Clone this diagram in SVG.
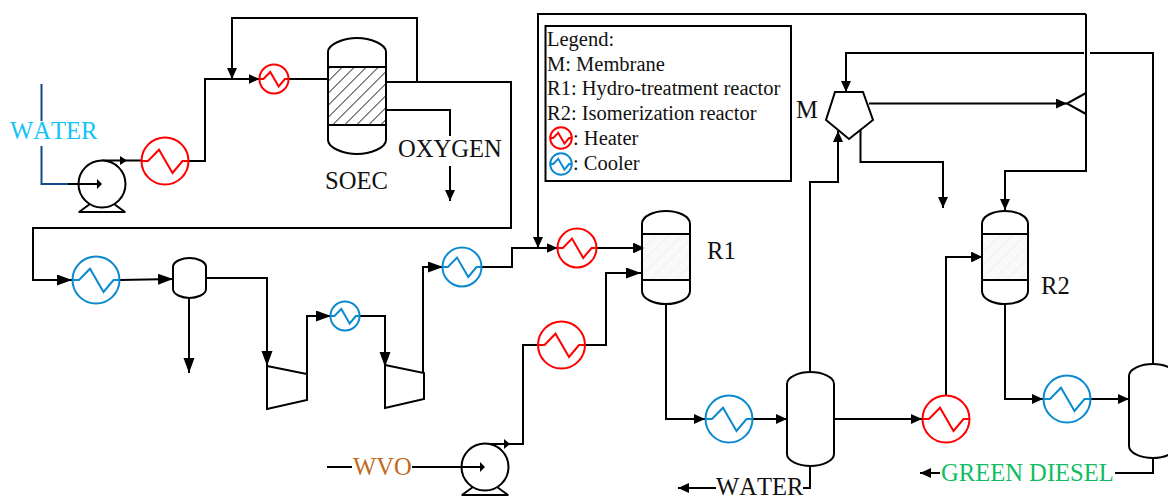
<svg xmlns="http://www.w3.org/2000/svg" width="1168" height="496" viewBox="0 0 1168 496">
<style>
.l{fill:none;stroke:#000;stroke-width:2}
.a{fill:none;stroke:#000;stroke-width:2;marker-end:url(#ah)}
.m{fill:none;stroke:#000;stroke-width:2;marker-end:url(#am)}
.s{fill:#fff;stroke:#000;stroke-width:2}
.h{fill:#fff;stroke:#f00;stroke-width:2}
.c{fill:#fff;stroke:#0c8ad0;stroke-width:2}
.t{font-family:"Liberation Serif","Times New Roman",serif;font-size:24.6px;fill:#111;font-kerning:none}
.k{font-family:"Liberation Serif","Times New Roman",serif;font-size:20.5px;fill:#111}
</style>
<defs>
<marker id="ah" markerUnits="userSpaceOnUse" markerWidth="16" markerHeight="12" refX="15" refY="5.500" orient="auto"><path d="M0 0L15 5.500L0 11Z" fill="#000"/></marker>
<marker id="am" markerUnits="userSpaceOnUse" markerWidth="12" markerHeight="11" refX="11" refY="5" orient="auto"><path d="M0 0L11 5L0 10Z" fill="#000"/></marker>
<pattern id="hd" patternUnits="userSpaceOnUse" width="8.500" height="8.500" patternTransform="rotate(45)"><rect width="8.500" height="8.500" fill="#fff"/><line x1="0" y1="0" x2="0" y2="8.500" stroke="#444" stroke-width="2"/></pattern>
<pattern id="hl" patternUnits="userSpaceOnUse" width="9" height="9" patternTransform="rotate(45)"><rect width="9" height="9" fill="#f9f9f9"/><line x1="0" y1="0" x2="0" y2="9" stroke="#eee" stroke-width="1.600"/></pattern>
<g id="hx"><circle r="23.5"/><path d="M-23.500 0H-17L-6 -11.300L7.500 12L17.500 0H23.500" fill="none"/></g>
<g id="pump"><path d="M-23 28L-12 20M23 28L12 20M-23.500 28H23.500" class="l"/><circle r="23.5" class="s"/></g>
</defs>
<g id="connectors">
<path d="M41.500 84V121M41.500 146V184H68" fill="none" stroke="#124a8c" stroke-width="2"/>
<path class="l" d="M102 160.500H141"/>
<path class="m" d="M189 161H205V79H259.500"/>
<path class="m" d="M417 82V18H232V79"/>
<path class="l" d="M289 79H328"/>
<path class="a" d="M386 82H511V228H33V280H72"/>
<path class="l" d="M386 110H450V136"/>
<path class="m" d="M450 166V201"/>
<path class="a" d="M120 280L173 279"/>
<path class="a" d="M206 278H267V366"/>
<path class="a" d="M189 298V373"/>
<path class="a" d="M307 374V316H331"/>
<path class="a" d="M360 316H385V367"/>
<path class="a" d="M423 373V267H443"/>
<path class="m" d="M482 267H512V248H557.500"/>
<path class="l" d="M1153 364V53H1090"/>
<path class="m" d="M1084 53H846V92"/>
<path class="m" d="M1086 14H538V248"/>
<path class="m" d="M1086 14V171H1005V210"/>
<path class="m" d="M597 248H644"/>
<path class="l" d="M485 444H523V345H538"/>
<path class="a" d="M585 345H606V273H641"/>
<path class="l" d="M327 467H352"/>
<path class="l" d="M412 467H462"/>
<path class="m" d="M666 304V419H705"/>
<path class="m" d="M753 419H787"/>
<path class="m" d="M810 372V182H838V131"/>
<path class="m" d="M869 103.500H1067"/>
<path class="m" d="M860.500 130V162H943V208"/>
<path class="m" d="M834 419H922"/>
<path class="m" d="M946 395V257H982"/>
<path class="m" d="M1005 304V399H1043"/>
<path class="m" d="M1091 399H1129"/>
<path class="l" d="M810 466V488H803"/>
<path class="m" d="M716 488H678"/>
<path class="l" d="M1153 458V473H1115"/>
<path class="m" d="M940 473H920"/>
</g>
<g id="water-label"><text x="10" y="139" class="t" style="fill:#12c3f5">WATER</text></g>
<g id="pump1"><use href="#pump" x="102" y="184"/><path d="M68 184H100" class="l"/><path d="M97 179L102 184L97 189Z"/><path d="M120 156L127 160.500L120 165Z"/></g>
<g id="heater1"><use href="#hx" x="165" y="161" class="h"/></g>
<g id="heater2"><use href="#hx" transform="translate(274 79) scale(.62)" class="h" style="stroke-width:3.2"/></g>
<g id="soec">
<path d="M328 52C328 44 344 38 357 38C370 38 386 44 386 52V140C386 148 370 154 357 154C344 154 328 148 328 140Z" class="s"/>
<rect x="329" y="67" width="56" height="58" fill="url(#hd)"/>
<path d="M328 67H386M328 125H386" class="l"/>
<text x="325" y="189" class="t">SOEC</text>
</g>
<g id="oxygen-label"><text x="398" y="157" class="t">OXYGEN</text></g>
<g id="cooler1"><use href="#hx" x="96" y="280" class="c"/></g>
<g id="flash1"><path d="M173 267C173 261 183 258 189.500 258C196 258 206 261 206 267V289C206 295 196 298 189.500 298C183 298 173 295 173 289Z" class="s"/></g>
<g id="compressor1"><path d="M267 366L307 374V400L267 409Z" class="s"/></g>
<g id="cooler2"><use href="#hx" transform="translate(345 316) scale(.62)" class="c" style="stroke-width:3.200"/></g>
<g id="compressor2"><path d="M385 365L424 373V399L385 408Z" class="s"/></g>
<g id="cooler3"><use href="#hx" transform="translate(462 267) scale(.83)" class="c" style="stroke-width:2.400"/></g>
<g id="heater3"><use href="#hx" transform="translate(577 248) scale(.83)" class="h" style="stroke-width:2.400"/></g>
<g id="legend">
<rect x="545.500" y="26" width="245.500" height="155" fill="#fff" stroke="#000" stroke-width="2"/>
<text x="547" y="46" class="k">Legend:</text>
<text x="547" y="71" class="k">M: Membrane</text>
<text x="547" y="95" class="k">R1: Hydro-treatment reactor</text>
<text x="547" y="120" class="k">R2: Isomerization reactor</text>
<use href="#hx" transform="translate(561 138) scale(.46)" class="h" style="stroke-width:4.300"/>
<text x="573" y="145" class="k">: Heater</text>
<use href="#hx" transform="translate(561 164) scale(.46)" class="c" style="stroke-width:4.300"/>
<text x="573" y="170" class="k">: Cooler</text>
</g>
<g id="membrane"><path d="M835 92H863L873 120L849 139L826 120Z" class="s"/><text x="796" y="118" class="t">M</text></g>
<g id="splitter"><path d="M1086 93L1067 103.500L1086 114" class="l"/></g>
<g id="r1">
<path d="M642 224C642 216 654 211 666 211C678 211 690 216 690 224V291C690 299 678 304 666 304C654 304 642 299 642 291Z" class="s"/>
<rect x="643" y="234" width="46" height="46" fill="url(#hl)"/>
<path d="M642 234H690M642 280H690" class="l"/>
<text x="707" y="259" class="t">R1</text>
<path d="M634 243L644 248L634 253Z"/>
</g>
<g id="heater4"><use href="#hx" x="561.500" y="345" class="h"/></g>
<g id="wvo-label"><text x="353" y="475" font-family="Liberation Serif, serif" font-size="24.6" fill="#bf6a1c">WVO</text></g>
<g id="pump2"><use href="#pump" x="485" y="467"/><path d="M452 467H483" class="l"/><path d="M480 462L485 467L480 472Z"/><path d="M504 439L510 444L504 449Z"/></g>
<g id="cooler4"><use href="#hx" x="729" y="419" class="c"/></g>
<g id="separator1"><path d="M787 384C787 377 799 372 810.500 372C822 372 834 377 834 384V454C834 461 822 466 810.500 466C799 466 787 461 787 454Z" class="s"/></g>
<g id="water-out"><text x="716" y="495" class="t">WATER</text></g>
<g id="heater5"><use href="#hx" x="946" y="419" class="h"/></g>
<g id="r2">
<path d="M982 224C982 216 993 211 1005 211C1017 211 1028 216 1028 224V291C1028 299 1017 304 1005 304C993 304 982 299 982 291Z" class="s"/>
<rect x="983" y="234" width="44" height="46" fill="url(#hl)"/>
<path d="M982 234H1028M982 280H1028" class="l"/>
<text x="1041" y="294" class="t">R2</text>
<path d="M972 252L982 257L972 262Z"/>
</g>
<g id="cooler5"><use href="#hx" x="1067" y="399" class="c"/></g>
<g id="separator2"><path d="M1129 376C1129 369 1141 364 1153 364C1165 364 1176 369 1176 376V446C1176 453 1165 458 1153 458C1141 458 1129 453 1129 446Z" class="s"/></g>
<g id="diesel-label"><text x="941" y="481" font-family="Liberation Serif, serif" font-size="24.6" fill="#10bd62">GREEN DIESEL</text></g>
</svg>
